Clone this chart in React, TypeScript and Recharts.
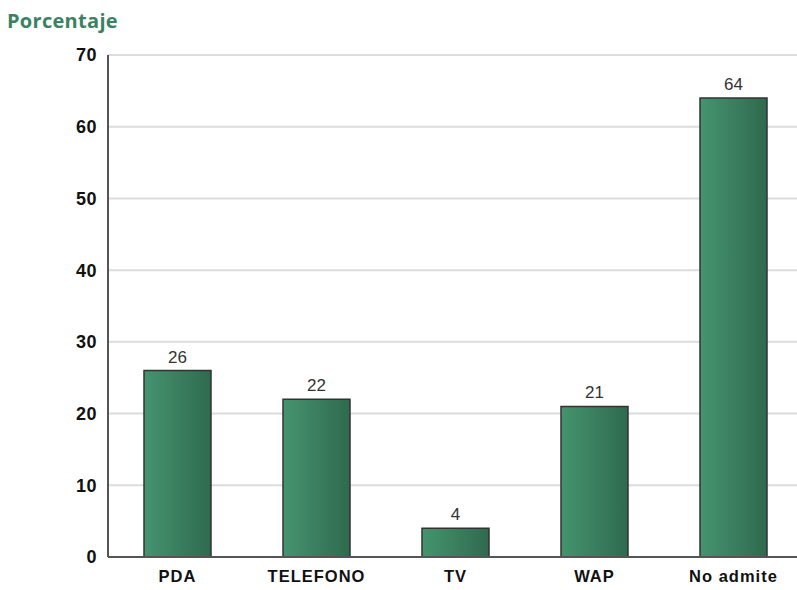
import { BarChart, Bar, XAxis, YAxis, CartesianGrid, LabelList } from 'recharts'

const categories = ['PDA', 'TELEFONO', 'TV', 'WAP', 'No admite']
const percentages = [26, 22, 4, 21, 64]
const yTicks = [0, 10, 20, 30, 40, 50, 60, 70]

const data = categories.map((name, i) => ({ name, value: percentages[i] }))

const axisFont = '"Liberation Sans", Arial, sans-serif'

export default function App() {
  return (
    <div style={{ position: 'absolute', left: 0, top: 0, width: 797, height: 590, overflow: 'hidden', background: '#fff' }}>
      <div
        style={{
          position: 'absolute', left: 7, top: 7, fontFamily: '"Open Sans", sans-serif',
          fontWeight: 700, fontSize: 20, color: '#3a8262', letterSpacing: 0.3,
        }}
      >
        Porcentaje
      </div>
      <BarChart
        width={811}
        height={590}
        data={data}
        margin={{ top: 55, right: 8, bottom: 3, left: 10 }}
        barSize={67}
      >
        <defs>
          <linearGradient id="barFill" x1="0" y1="0" x2="1" y2="0">
            <stop offset="0%" stopColor="#45946f" />
            <stop offset="100%" stopColor="#2f6a4e" />
          </linearGradient>
        </defs>
        <CartesianGrid vertical={false} stroke="#dcdcdc" strokeWidth={2} />
        <XAxis
          dataKey="name"
          height={30}
          tickLine={false}
          axisLine={{ stroke: '#555', strokeWidth: 2 }}
          tick={{ fill: '#111', fontSize: 16.5, fontWeight: 700, fontFamily: axisFont, letterSpacing: 1 }}
          dy={5}
        />
        <YAxis
          width={98}
          domain={[0, 70]}
          ticks={yTicks}
          tickLine={false}
          axisLine={{ stroke: '#555', strokeWidth: 2 }}
          tick={{ fill: '#111', fontSize: 18, fontWeight: 700, fontFamily: axisFont, letterSpacing: 0.5 }}
          dx={-3}
        />
        <Bar dataKey="value" fill="url(#barFill)" stroke="#333" strokeWidth={1.5} isAnimationActive={false}>
          <LabelList
            dataKey="value"
            position="top"
            offset={8}
            style={{ fill: '#333', fontSize: 17, fontFamily: axisFont }}
          />
        </Bar>
      </BarChart>
    </div>
  )
}
